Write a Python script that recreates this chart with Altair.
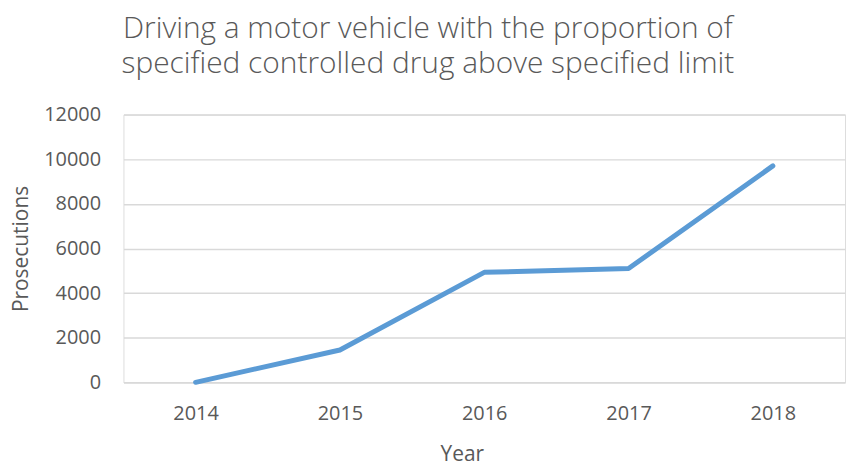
import altair as alt
import pandas as pd

years = ["2014", "2015", "2016", "2017", "2018"]
prosecutions = [0, 1450, 4930, 5100, 9700]
title_lines = ["Driving a motor vehicle with the proportion of",
               "specified controlled drug above specified limit"]
y_ticks = [0, 2000, 4000, 6000, 8000, 10000, 12000]

df = pd.DataFrame({"Year": years, "Prosecutions": prosecutions})

FONT = "Open Sans"
GRAY = "#595959"

chart = alt.Chart(df).mark_line(color="#5B9BD5", strokeWidth=5, strokeCap="round", strokeJoin="round").encode(
    x=alt.X("Year:O", scale=alt.Scale(paddingInner=0, paddingOuter=0.5, align=0.5),
            axis=alt.Axis(labelAngle=0, ticks=False, domain=True, domainColor="#d9d9d9", domainWidth=1.5,
                          labelFontSize=20, labelColor=GRAY, labelFont=FONT, labelPadding=21,
                          titleFontSize=21, titleColor=GRAY, titleFont=FONT, titleFontWeight="normal",
                          titlePadding=21, titleX=340, titleAlign="center")),
    y=alt.Y("Prosecutions:Q", scale=alt.Scale(domain=[0, 12000], nice=False),
            axis=alt.Axis(values=y_ticks, format="d", ticks=False, domain=False, grid=True, gridColor="#d9d9d9",
                          gridWidth=1.5, labelFontSize=20, labelColor=GRAY, labelFont=FONT, labelPadding=23,
                          titleFontSize=21, titleColor=GRAY, titleFont=FONT, titleFontWeight="normal",
                          titlePadding=12)),
).properties(
    width=725, height=269,
    title=alt.TitleParams(title_lines, fontSize=30, font=FONT, fontWeight=300, color=GRAY,
                          lineHeight=35, anchor="middle", frame="bounds", offset=26),
).configure_view(stroke=None).configure(padding={"left": 2, "top": 5, "right": 2, "bottom": 2})

chart.save("out.html", embed_options={"renderer": "svg", "actions": False})
